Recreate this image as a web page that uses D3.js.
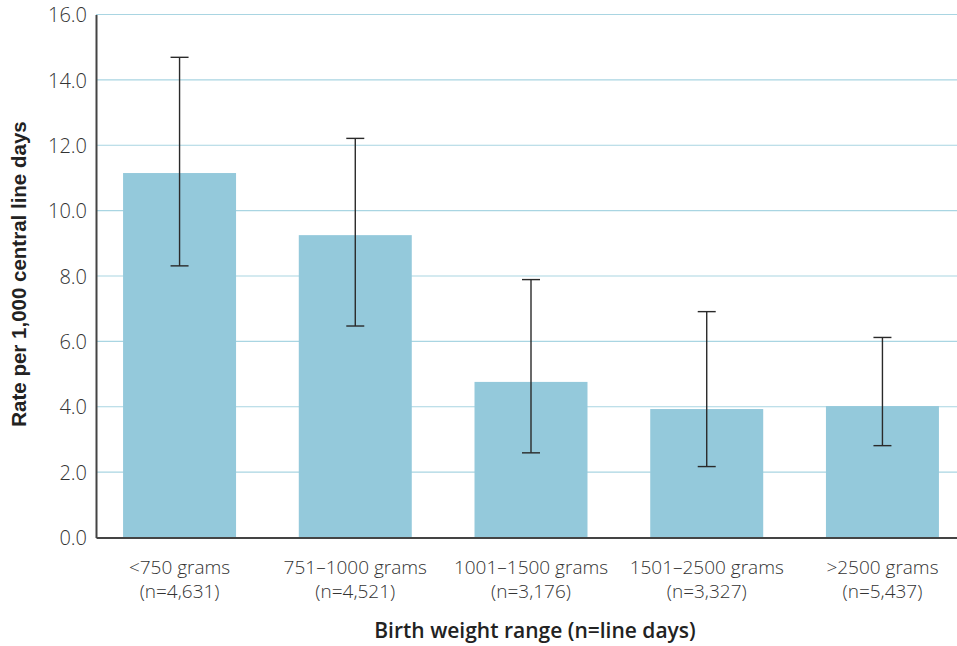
<!DOCTYPE html>
<html>
<head>
<meta charset="utf-8">
<script src="https://cdn.jsdelivr.net/npm/d3@7"></script>
<style>
  html, body { margin: 0; padding: 0; background: #fff; }
  svg { display: block; }
</style>
</head>
<body>
<svg id="chart" width="957" height="646"></svg>
<script>
const categories = ["<750 grams", "751\u20131000 grams", "1001\u20131500 grams", "1501\u20132500 grams", ">2500 grams"];
const sampleSizes = ["(n=4,631)", "(n=4,521)", "(n=3,176)", "(n=3,327)", "(n=5,437)"];
const rates = [11.15, 9.25, 4.76, 3.93, 4.02];
const lowerCI = [8.31, 6.47, 2.59, 2.17, 2.81];
const upperCI = [14.69, 12.21, 7.89, 6.91, 6.12];
const yTicks = [0, 2, 4, 6, 8, 10, 12, 14, 16];
const yTitle = "Rate per 1,000 central line days";
const xTitle = "Birth weight range (n=line days)";

const data = categories.map((c, i) => ({ cat: c, n: sampleSizes[i], v: rates[i], lo: lowerCI[i], hi: upperCI[i] }));

const svg = d3.select("#chart");
const x0 = 96, xR = 966, yTop = 14.5, yBot = 537.5;

const x = d3.scaleBand().domain(categories).range([x0, xR]).paddingInner(0.357).paddingOuter(0.154);
const y = d3.scaleLinear().domain([0, 16]).range([yBot, yTop]);

const tickFont = "'Open Sans', 'Liberation Sans', sans-serif";

// gridlines
svg.append("g").selectAll("line").data(yTicks.filter(t => t > 0)).join("line")
  .attr("x1", x0).attr("x2", 957)
  .attr("y1", d => y(d)).attr("y2", d => y(d))
  .attr("stroke", "#a9d5e2").attr("stroke-width", 1.2);

// bars
svg.append("g").selectAll("rect").data(data).join("rect")
  .attr("x", d => x(d.cat)).attr("width", x.bandwidth())
  .attr("y", d => y(d.v)).attr("height", d => y(0) - y(d.v))
  .attr("fill", "#94c9db");

// error bars
const eb = svg.append("g").attr("stroke", "#2a2a2a").attr("stroke-width", 1.4);
eb.selectAll("line.v").data(data).join("line").attr("class", "v")
  .attr("x1", d => x(d.cat) + x.bandwidth() / 2).attr("x2", d => x(d.cat) + x.bandwidth() / 2)
  .attr("y1", d => y(d.hi)).attr("y2", d => y(d.lo));
eb.selectAll("line.t").data(data).join("line").attr("class", "t")
  .attr("x1", d => x(d.cat) + x.bandwidth() / 2 - 9).attr("x2", d => x(d.cat) + x.bandwidth() / 2 + 9)
  .attr("y1", d => y(d.hi)).attr("y2", d => y(d.hi));
eb.selectAll("line.b").data(data).join("line").attr("class", "b")
  .attr("x1", d => x(d.cat) + x.bandwidth() / 2 - 9).attr("x2", d => x(d.cat) + x.bandwidth() / 2 + 9)
  .attr("y1", d => y(d.lo)).attr("y2", d => y(d.lo));

// y axis
const yAxis = d3.axisLeft(y).tickValues(yTicks).tickFormat(d3.format(".1f")).tickSize(0).tickPadding(9);
const gy = svg.append("g").attr("transform", `translate(${x0},0)`).call(yAxis);
gy.select(".domain").attr("stroke", "#444").attr("stroke-width", 2);
gy.selectAll("text").attr("font-family", tickFont).attr("font-weight", 300)
  .attr("font-size", 20).attr("fill", "#333").attr("dy", "0.36em");

// x axis: category labels, each with its sample size as a separate text line
const xAxis = d3.axisBottom(x).tickSize(0).tickFormat(() => "");
const gx = svg.append("g").attr("transform", `translate(0,${yBot})`).call(xAxis);
gx.select(".domain").attr("stroke", "#444").attr("stroke-width", 2);
gx.selectAll(".tick").each(function (d, i) {
  const g = d3.select(this);
  g.append("text").attr("y", 36)
    .attr("text-anchor", "middle").attr("font-family", tickFont).attr("font-weight", 300)
    .attr("font-size", 19).attr("fill", "#333").text(d);
  g.append("text").attr("y", 60)
    .attr("text-anchor", "middle").attr("font-family", tickFont).attr("font-weight", 300)
    .attr("font-size", 19).attr("fill", "#333").text(sampleSizes[i]);
});

// titles
svg.append("text")
  .attr("transform", `translate(26,274) rotate(-90)`)
  .attr("text-anchor", "middle")
  .attr("font-family", "'Liberation Sans', Arial, sans-serif").attr("font-weight", "bold")
  .attr("font-size", 20.5).attr("fill", "#222")
  .text(yTitle);

svg.append("text")
  .attr("x", 535).attr("y", 638)
  .attr("text-anchor", "middle")
  .attr("font-family", "'Open Sans', sans-serif").attr("font-weight", 600)
  .attr("font-size", 21).attr("fill", "#222")
  .text(xTitle);
</script>
</body>
</html>
